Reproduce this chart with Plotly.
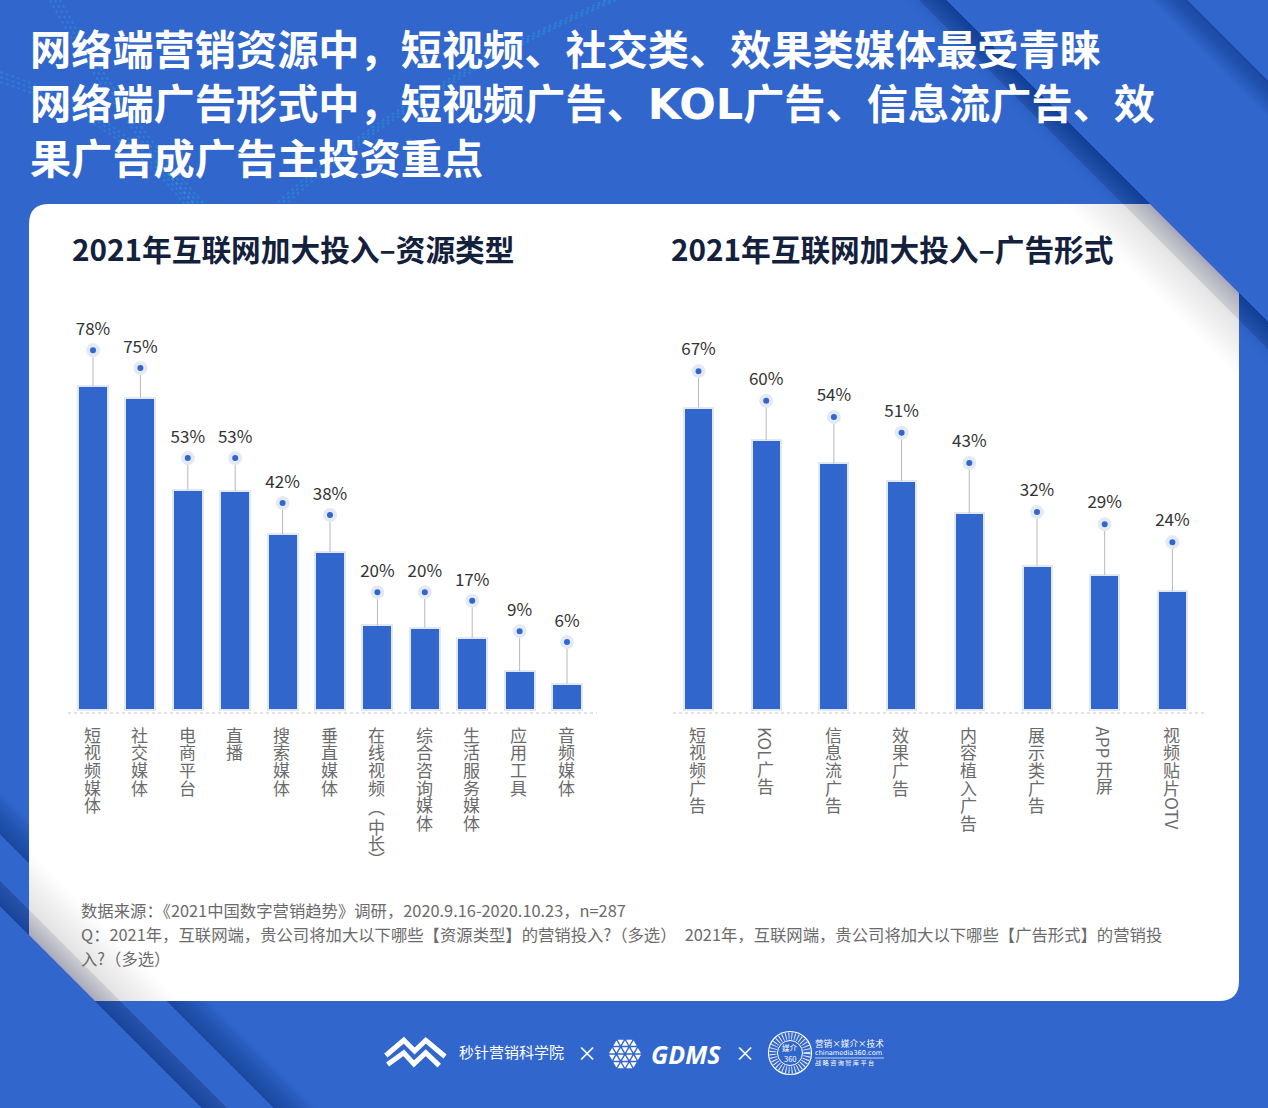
import re
import plotly.graph_objects as go

# ---- data ----
cats_left = ["短视频媒体", "社交媒体", "电商平台", "直播", "搜索媒体", "垂直媒体",
             "在线视频︵中长︶", "综合咨询媒体", "生活服务媒体", "应用工具", "音频媒体"]
bars_left = [78, 75.2, 53, 52.8, 42.3, 38.1, 20.4, 19.8, 17.4, 9.4, 6.3]
pins_left = [86.7, 82.4, 60.7, 60.7, 49.9, 47, 28.4, 28.4, 26.3, 19, 16.4]
text_left = ["78%", "75%", "53%", "53%", "42%", "38%", "20%", "20%", "17%", "9%", "6%"]

cats_right = ["短视频广告", "KOL广告", "信息流广告", "效果广告", "内容植入广告", "展示类广告", "APP开屏", "视频贴片OTV"]
bars_right = [67.2, 60, 54.8, 50.9, 43.7, 32, 30, 26.4]
pins_right = [75.3, 68.7, 65.1, 61.6, 54.9, 44, 41.3, 37.3]
text_right = ["67%", "60%", "54%", "51%", "43%", "32%", "29%", "24%"]

title_lines = ["网络端营销资源中，短视频、社交类、效果类媒体最受青睐",
               "网络端广告形式中，短视频广告、<span style=\"font-family:'DejaVu Sans';font-size:43px\">KOL</span>广告、信息流广告、效",
               "果广告成广告主投资重点"]
sub_left = "2021年互联网加大投入–资源类型"
sub_right = "2021年互联网加大投入–广告形式"
notes = ["数据来源：《2021中国数字营销趋势》调研，2020.9.16-2020.10.23，n=287",
         "Q：2021年，互联网端，贵公司将加大以下哪些【资源类型】的营销投入?（多选）　2021年，互联网端，贵公司将加大以下哪些【广告形式】的营销投",
         "入?（多选）"]

W, H = 1268, 1108
BLUE = "#3166CC"
CJK = "Noto Sans CJK SC"
px = lambda x: x / W
py = lambda y: 1 - y / H

shapes, annos = [], []


def path(pts):
    return "M " + " L ".join(f"{px(x):.5f},{py(y):.5f}" for x, y in pts) + " Z"


def clip(poly, region):
    out = poly
    n = len(region)
    for i in range(n):
        a, b = region[i], region[(i + 1) % n]
        side = lambda p: (b[0] - a[0]) * (p[1] - a[1]) - (b[1] - a[1]) * (p[0] - a[0])
        inp, out = out, []
        for j in range(len(inp)):
            p, q = inp[j], inp[(j + 1) % len(inp)]
            sp, sq = side(p), side(q)
            if sp >= 0:
                out.append(p)
            if sp * sq < 0:
                t = sp / (sp - sq)
                out.append((p[0] + t * (q[0] - p[0]), p[1] + t * (q[1] - p[1])))
        if not out:
            return []
    return out


def band(sign, edge, weak, rgb, a0, a1, region, n=14):
    """Diagonal gradient: darkest along sign*(x-y)=edge, fading to weak."""
    for k in range(n):
        c = weak + (edge - weak) * k / n
        if sign > 0:
            poly = [(c - 200, -200), (edge - 200, -200), (edge + 1500, 1500), (c + 1500, 1500)]
        else:
            poly = [(-200, c - 200), (1500, c + 1500), (1500, edge + 1500), (-200, edge - 200)]
        clipped = clip(poly, region)
        if not clipped:
            continue
        a = a0 if k == 0 else (a1 - a0) / (n - 1)
        shapes.append(dict(type="path", path=path(clipped), xref="paper", yref="paper",
                           fillcolor=f"rgba({rgb},{a:.4f})", line_width=0, layer="below"))


FULL = [(0, 0), (W, 0), (W, H), (0, H)]
DARK = "15,42,92"
band(1, 1187, 1150, DARK, 0.02, 0.45, FULL)
band(1, 946, 905, DARK, 0.02, 0.12, FULL)
band(1, 946, 919, DARK, 0.26, 0.38, FULL)
band(-1, 906, 881, DARK, 0.32, 0.42, FULL)
band(-1, 834, 790, DARK, 0.02, 0.45, FULL)

# particle ribbons
for off in range(0, 15, 5):
    for d in [f"M {px(50+off)},{py(0)} Q {px(110+off)},{py(110)} {px(195+off)},{py(205)}",
              f"M {px(0)},{py(72+off)} Q {px(120)},{py(110+off)} {px(195-off)},{py(205)}",
              f"M {px(606+off)},{py(0)} Q {px(400+off)},{py(90)} {px(275+off)},{py(205)}"]:
        shapes.append(dict(type="path", path=d, xref="paper", yref="paper", layer="below",
                           line=dict(color="rgba(34,200,235,0.24)", width=2, dash="dot")))

# card
card = [(49, 204), (1150, 204), (1239, 293), (1239, 981), (1219, 1001), (95, 1001), (29, 935), (29, 224)]
card_d = (f"M {px(49)},{py(204)} L {px(1150)},{py(204)} L {px(1239)},{py(293)} L {px(1239)},{py(981)} "
          f"Q {px(1239)},{py(1001)} {px(1219)},{py(1001)} L {px(95)},{py(1001)} L {px(29)},{py(935)} "
          f"L {px(29)},{py(224)} Q {px(29)},{py(204)} {px(49)},{py(204)} Z")
shapes.append(dict(type="path", path=card_d, xref="paper", yref="paper", fillcolor="#FFFFFF",
                   line_width=0, layer="below"))
GRAY = "112,122,138"
band(1, 946, 860, GRAY, 0.005, 0.32, card, 20)
band(1, 946, 919, GRAY, 0.20, 0.36, card)
band(-1, 906, 820, GRAY, 0.005, 0.32, card, 20)
band(-1, 906, 881, GRAY, 0.20, 0.36, card)


def text(x, y, s, size, color, weight=400, anchor="left", family=CJK, style="normal"):
    annos.append(dict(xref="paper", yref="paper", x=px(x - (2.5 if anchor == "left" else 0)), y=py(y - 1.5),
                      text=s, showarrow=False, xanchor=anchor, yanchor="middle", align="left",
                      font=dict(family=family, size=size, color=color, weight=weight, style=style)))


for y, s in zip([49, 103, 157], title_lines):
    text(30, y, s, 41.2, "#FFFFFF", 700)
text(72, 250, sub_left, 29.7, "#14213D", 700)
text(671, 250, sub_right, 29.7, "#14213D", 700)
for y, s in zip([911, 935, 959], notes):
    text(81, y, s, 16.35, "#6B6B6B")

# stacked, top-to-bottom category labels
ADVANCE = {"︵": 22, "长": 14}


def vertical(cat, xaxis):
    top = 725.5
    for tok in re.findall(r"[A-Za-z]+|.", cat):
        latin = tok.isascii()
        adv = 11.3 * len(tok) if latin else ADVANCE.get(tok, 17.6)
        annos.append(dict(xref=xaxis, x=cat, yref="paper", y=py(top + adv / 2), text=tok, xshift=-0.7,
                          textangle=90 if latin else 0, showarrow=False,
                          xanchor="center", yanchor="middle",
                          font=dict(family=CJK, size=17, color="#6B6B6B")))
        top += adv


for c in cats_left:
    vertical(c, "x")
for c in cats_right:
    vertical(c, "x2")

# footer logos
white_line = dict(color="#FFFFFF", width=5)
zx = lambda v: 370 + v / 2.96
zy = lambda v: 1020 + v / 2.96
for seq in ([(47, 105), (100, 60), (132, 92), (165, 60), (222, 108)],
            [(52, 132), (100, 97), (130, 130), (165, 97), (205, 135)]):
    d = "M " + " L ".join(f"{px(zx(a)):.5f},{py(zy(b)):.5f}" for a, b in seq)
    shapes.append(dict(type="path", path=d, xref="paper", yref="paper", line=white_line, layer="below"))
text(460, 1053, "秒针营销科学院", 15, "#FFFFFF")
text(587, 1054, "×", 20, "#FFFFFF", anchor="center")
text(745, 1054, "×", 20, "#FFFFFF", anchor="center")
text(651, 1055, "GDMS", 25, "#FFFFFF", 700, family="Open Sans", style="italic")

# faceted hexagon mark
cx, cy, s = 625, 1054, 8.6
h = s * 0.866
for row in range(-2, 2):
    y0, y1 = cy + row * h, cy + (row + 1) * h
    for i in range(-3, 4):
        for up in (1, -1):
            x0 = cx + i * s / 2
            tri = [(x0 - s / 2, y1), (x0 + s / 2, y1), (x0, y0)] if up > 0 else [(x0 - s / 2, y0), (x0 + s / 2, y0), (x0, y1)]
            if (i + row) % 2 != (0 if up > 0 else 1):
                continue
            mx = sum(p[0] for p in tri) / 3
            my = sum(p[1] for p in tri) / 3
            if (mx - cx) ** 2 + (my - cy) ** 2 > (1.75 * s) ** 2:
                continue
            small = [(mx + (a - mx) * 0.72, my + (b - my) * 0.72) for a, b in tri]
            shapes.append(dict(type="path", path=path(small), xref="paper", yref="paper",
                               fillcolor="#FFFFFF", line_width=0, layer="below"))

# round mark
for r, wd in [(21.5, 1.2), (12.5, 1)]:
    shapes.append(dict(type="circle", xref="paper", yref="paper", x0=px(790 - r), x1=px(790 + r),
                       y0=py(1053 + r), y1=py(1053 - r), line=dict(color="#FFFFFF", width=wd), layer="below"))
shapes.append(dict(type="circle", xref="paper", yref="paper", x0=px(790 - 17), x1=px(790 + 17),
                   y0=py(1053 + 17), y1=py(1053 - 17),
                   line=dict(color="rgba(255,255,255,0.85)", width=7, dash="1px,2px"), layer="below"))
text(790, 1048.5, "媒介", 7.5, "#FFFFFF", anchor="center")
text(790, 1060, "360", 7.5, "#FFFFFF", anchor="center")
text(815, 1044.5, "营销×媒介×技术", 8.6, "#FFFFFF")
text(815, 1054, "chinamedia360.com", 6.6, "#FFFFFF", family="DejaVu Sans")
shapes.append(dict(type="line", xref="paper", yref="paper", x0=px(815), x1=px(884), y0=py(1058), y1=py(1058),
                   line=dict(color="#FFFFFF", width=0.7), layer="below"))
text(815, 1063.5, "战 略 咨 询 智 库 平 台", 6.2, "#FFFFFF")

# ---- charts ----
fig = go.Figure()


def chart(cats, bars, pins, labels, xa, ya, bar_px, step, scale, gap):
    fig.add_trace(go.Bar(x=cats, y=bars, xaxis=xa, yaxis=ya, width=bar_px / step,
                         marker=dict(color=BLUE, line=dict(color="#E1E7F3", width=2)),
                         showlegend=False, hoverinfo="skip"))
    fig.add_trace(go.Scatter(x=cats, y=pins, xaxis=xa, yaxis=ya, mode="markers",
                             marker=dict(size=10, color=BLUE, line=dict(color="#E3E9F5", width=4)),
                             error_y=dict(type="data", symmetric=False, array=[0] * len(pins),
                                          arrayminus=[p - b for p, b in zip(pins, bars)],
                                          color="#B8B8B8", thickness=1, width=0),
                             showlegend=False, hoverinfo="skip"))
    fig.add_trace(go.Scatter(x=cats, y=[p + gap / scale for p in pins], xaxis=xa, yaxis=ya, mode="text",
                             text=labels, textposition="middle center",
                             textfont=dict(family=CJK, size=17, color="#333333"),
                             showlegend=False, hoverinfo="skip"))


chart(cats_left, bars_left, pins_left, text_left, "x", "y", 30, 47.4, 4.15, 19.5)
chart(cats_right, bars_right, pins_right, text_right, "x2", "y2", 29, 67.7, 4.5, 20.5)

base_y, top_y, floor_y = 710, 300, 713
for xa, x0, x1, c0, step, scale in [("x", 68, 597, 93, 47.4, 4.15), ("x2", 673, 1207, 698.5, 67.7, 4.5)]:
    ya = "y" if xa == "x" else "y2"
    shapes.append(dict(type="line", xref=f"{xa} domain", yref=f"{ya} domain", x0=0, x1=1, y0=0, y1=0,
                       line=dict(color="#C8C8C8", width=1, dash="dot"), layer="below"))
    xname, yname = xa.replace("x", "xaxis"), ya.replace("y", "yaxis")
    xlayout = dict(domain=[px(x0), px(x1)], range=[(x0 - c0) / step, (x1 - c0) / step],
                   type="category", showline=False, showgrid=False, zeroline=False, ticks="",
                   showticklabels=False)
    ylayout = dict(domain=[py(floor_y), py(top_y)],
                   range=[(base_y - floor_y) / scale, (base_y - top_y) / scale], visible=False)
    fig.update_layout({xname: xlayout, yname: ylayout})

fig.update_layout(width=W, height=H, margin=dict(l=0, r=0, t=0, b=0), autosize=False,
                  paper_bgcolor=BLUE, plot_bgcolor="rgba(0,0,0,0)", shapes=shapes, annotations=annos,
                  showlegend=False, bargap=0)
fig.write_html("out.html", post_script="document.body.style.margin='0';document.body.style.overflow='hidden';",
               config=dict(displayModeBar=False))
